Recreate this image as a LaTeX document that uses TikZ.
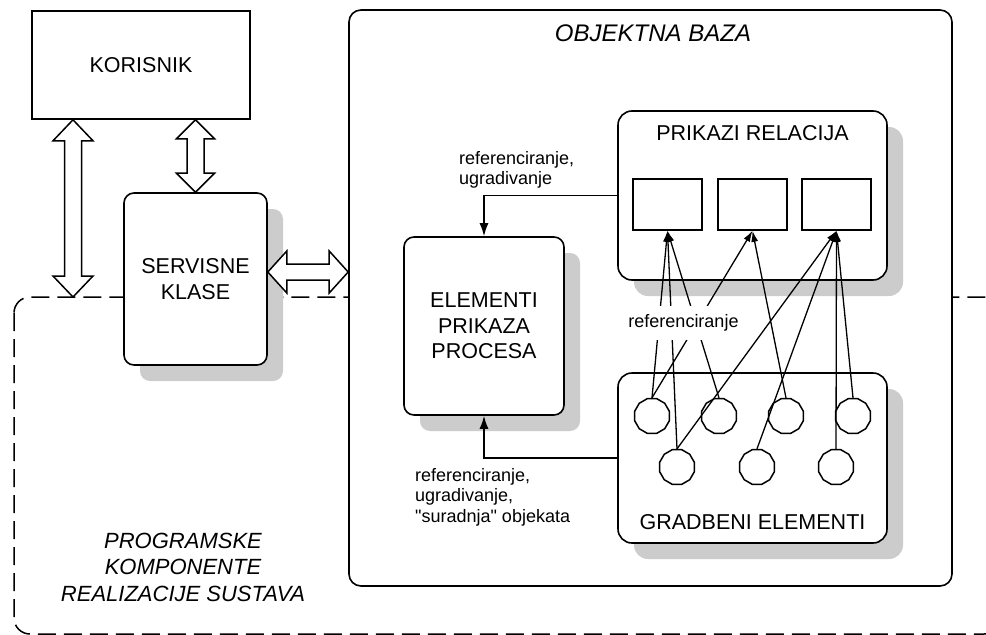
\documentclass[tikz,border=0pt]{standalone}
\usepackage{fontspec}
\newfontfamily\lsans{Liberation Sans}
\usetikzlibrary{shapes.geometric,arrows.meta,shadows,calc}
\newcommand\fsz[2]{\fontsize{#1pt}{#2pt}\selectfont}
\newcommand\vdbl[5]{%
\draw[dblarr] let \p1=(#1), \p2=(#2) in
 (\x1,\y1) -- (\x1+#4,\y1-#5) -- (\x1+#3,\y1-#5) -- (\x1+#3,\y2+#5) -- (\x1+#4,\y2+#5) -- (\x1,\y2)
 -- (\x1-#4,\y2+#5) -- (\x1-#3,\y2+#5) -- (\x1-#3,\y1-#5) -- (\x1-#4,\y1-#5) -- cycle;}
\newcommand\hdbl[5]{%
\draw[dblarr] let \p1=(#1), \p2=(#2) in
 (\x1,\y1) -- (\x1+#5,\y1+#4) -- (\x1+#5,\y1+#3) -- (\x2-#5,\y1+#3) -- (\x2-#5,\y1+#4) -- (\x2,\y1)
 -- (\x2-#5,\y1-#4) -- (\x2-#5,\y1-#3) -- (\x1+#5,\y1-#3) -- (\x1+#5,\y1-#4) -- cycle;}
\begin{document}
\begin{tikzpicture}[x=1pt,y=-1pt,
  shad/.style={drop shadow={shadow xshift=16pt,shadow yshift=-16pt,fill=black!20,opacity=1}},
  boxbase/.style={draw,line width=1.6pt,fill=white,inner sep=0pt,align=center},
  bigtxt/.style={font=\lsans\fsz{21.5}{25.5}},
  sbox/.style={draw,line width=1.6pt,minimum width=69pt,minimum height=51pt,inner sep=0pt},
  circ/.style={draw,line width=1.5pt,regular polygon,regular polygon sides=12,minimum size=36pt,inner sep=0pt},
  dblarr/.style={draw,fill=white,line width=1.5pt,line join=miter},
  conn/.style={line width=1.4pt,-{Latex[length=13pt,width=9pt]}},
  refl/.style={line width=1.3pt,-{Latex[length=11pt,width=7pt]}},
  lbl/.style={font=\lsans\fsz{18}{20.5},align=left,inner sep=0pt},
  outer/.style={line width=1.5pt,dash pattern=on 18pt off 8pt,rounded corners=16pt}]
\useasboundingbox (0,0) rectangle (986,635);
\clip (0,0) rectangle (986,635);
% outer dashed region
\draw[outer] (14,297) rectangle (1000,634);
% boxes
\node[boxbase,bigtxt,minimum width=218pt,minimum height=108pt] (kor) at (141,65) {KORISNIK};
\node[boxbase,bigtxt,shad,rounded corners=10pt,minimum width=143pt,minimum height=172pt] (srv) at (195.5,279) {SERVISNE\\KLASE};
\node[boxbase,rounded corners=12pt,minimum width=603pt,minimum height=576pt] (obj) at (650.5,298) {};
\node[font=\lsans\itshape\fsz{24}{28}] (objt) at (653,33) {OBJEKTNA BAZA};
\node[boxbase,shad,rounded corners=14pt,minimum width=269pt,minimum height=169pt] (prk) at (752.5,195.5) {};
\node[bigtxt] (prkt) at (752.5,133) {PRIKAZI RELACIJA};
\node[boxbase,shad,rounded corners=14pt,minimum width=269pt,minimum height=170pt] (grd) at (752.5,458) {};
\node[bigtxt] (grdt) at (752.5,522) {GRADBENI ELEMENTI};
\node[boxbase,bigtxt,shad,rounded corners=10pt,minimum width=160pt,minimum height=178pt] (el) at (484,326) {ELEMENTI\\PRIKAZA\\PROCESA};
% small boxes
\node[sbox] (r1) at (667.5,204.5) {};
\node[sbox] (r2) at (752.5,204.5) {};
\node[sbox] (r3) at (836.5,204.5) {};
% circles
\node[circ] (t1) at (652,416) {};
\node[circ] (t2) at (719,416) {};
\node[circ] (t3) at (786,416) {};
\node[circ] (t4) at (853,416) {};
\node[circ] (b1) at (677,467) {};
\node[circ] (b2) at (757,467) {};
\node[circ] (b3) at (836,467) {};
% double arrows
\coordinate (la) at (73,297);
\coordinate (hy) at (0,272);
\vdbl{kor.south -| la}{la}{8.5pt}{20pt}{21pt}
\vdbl{kor.south -| srv.north}{srv.north}{8.5pt}{19pt}{19pt}
\hdbl{srv.east |- hy}{obj.west |- hy}{8pt}{21pt}{19pt}
% connectors to process elements
\draw[conn] (prk.west) -| (el.north);
\draw[conn] (grd.west) -| (el.south);
% referencing lines
\draw[refl] (t1.north) -- (r1.south);
\draw[refl] (b1.north) -- (r1.south);
\draw[refl] (t2.north) -- (r1.south);
\draw[refl] (t1.north) -- (r2.south);
\draw[refl] (t3.north) -- (r2.south);
\draw[refl] (b1.north) -- (r3.south);
\draw[refl] (b2.north) -- (r3.south);
\draw[refl] (b3.north) -- (r3.south);
\draw[refl] (t4.north) -- (r3.south);
% labels
\node[lbl,fill=white,inner xsep=1pt,inner ysep=9pt] (l3) at (683.5,323) {referenciranje};
\node[lbl,anchor=west] (l1) at (459,170) {referenciranje,\\ugradivanje};
\node[lbl,anchor=west] (l2) at (415,497) {referenciranje,\\ugradivanje,\\"suradnja" objekata};
\node[font=\lsans\itshape\fsz{22}{26.5},align=center] (pk) at (183,567) {PROGRAMSKE\\KOMPONENTE\\REALIZACIJE SUSTAVA};
\end{tikzpicture}
\end{document}
